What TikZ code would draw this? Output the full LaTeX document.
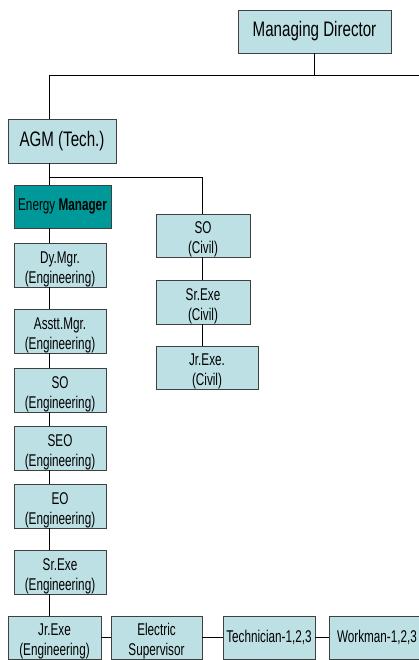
\documentclass[tikz,border=0pt]{standalone}
\usepackage{fontspec}
\setmainfont{Liberation Sans}[FakeStretch=0.69]
\newfontfamily\bigfont{Liberation Sans}[FakeStretch=0.72]
\definecolor{boxfill}{RGB}{188,224,228}
\definecolor{emfill}{RGB}{0,153,153}
\definecolor{boxline}{RGB}{64,64,64}
\newcommand\twol[2]{\raisebox{-4pt}[\height][\depth]{\begin{tabular}{@{}c@{}}#1\\#2\end{tabular}}}
\begin{document}
\begin{tikzpicture}[x=1pt,y=-1pt,
  org/.style={draw=boxline, line width=0.8pt, fill=boxfill, inner sep=0pt,
    minimum width=92pt, minimum height=44pt, font=\fontsize{17}{20}\selectfont},
  big/.style={org, font=\bigfont\fontsize{21}{24}\selectfont},
  link/.style={line width=0.8pt, black}]
\useasboundingbox (0,0) rectangle (419,660);
\fill[white] (0,0) rectangle (419,660);

% top
\node[big, minimum width=153pt, minimum height=43pt] (md) at (314.5,31.5) {Managing Director};
\node[big, minimum width=108pt] (agm) at (62,141) {AGM (Tech.)};
\node[org, fill=emfill, minimum width=97pt, minimum height=43pt] (em) at (62.5,206.5) {Energy \textbf{Manager}};

% engineering column
\node[org] (dy)   at (60,265) {\twol{Dy.Mgr.}{(Engineering)}};
\node[org] (asst) at (60,331) {\twol{Asstt.Mgr.}{(Engineering)}};
\node[org] (soe)  at (60,390) {\twol{SO}{(Engineering)}};
\node[org] (seo)  at (60,448) {\twol{SEO}{(Engineering)}};
\node[org] (eo)   at (60,506) {\twol{EO}{(Engineering)}};
\node[org] (sre)  at (60,572) {\twol{Sr.Exe}{(Engineering)}};

% bottom row
\node[org, minimum width=93pt, minimum height=43pt] (jre)  at (54.5,637.5) {\twol{Jr.Exe}{(Engineering)}};
\node[org, minimum width=91pt, minimum height=43pt] (elec) at (156.5,637.5) {\twol{Electric}{Supervisor}};
\node[org, minimum width=92pt, minimum height=43pt] (tech) at (269,637.5) {Technician-1,2,3};
\node[org, minimum width=96pt, minimum height=43pt] (work) at (377,637.5) {Workman-1,2,3};

% civil column
\node[org, minimum width=94pt, minimum height=43pt] (soc) at (203,235.5) {\twol{SO}{(Civil)}};
\node[org, minimum width=94pt] (src) at (203,302) {\twol{Sr.Exe}{(Civil)}};
\node[org, minimum width=102pt, minimum height=43pt] (jrc) at (207,367.5) {\twol{Jr.Exe.}{(Civil)}};

% helper coordinates
\coordinate (tx) at (49,0);
\coordinate (cx) at (202,0);
\coordinate (rt) at (419,75);
\coordinate (j1) at (49,177);

% connectors
\draw[link] (md.south) -- (md.south |- rt);
\draw[link] (agm.north -| tx) |- (rt);
\draw[link] (agm.south -| tx) -- (em.north -| tx);
\draw[link] (j1) -| (soc.north -| cx);
\draw[link] (em.south -| tx) -- (dy.north -| tx);
\draw[link] (dy.south -| tx) -- (asst.north -| tx);
\draw[link] (asst.south -| tx) -- (soe.north -| tx);
\draw[link] (soe.south -| tx) -- (seo.north -| tx);
\draw[link] (seo.south -| tx) -- (eo.north -| tx);
\draw[link] (eo.south -| tx) -- (sre.north -| tx);
\draw[link] (sre.south -| tx) -- (jre.north -| tx);
\draw[link] (soc.south -| cx) -- (src.north -| cx);
\draw[link] (src.south -| cx) -- (jrc.north -| cx);
\draw[link] (jre.east) -- (elec.west);
\draw[link] (elec.east) -- (tech.west);
\draw[link] (tech.east) -- (work.west);
\end{tikzpicture}
\end{document}
